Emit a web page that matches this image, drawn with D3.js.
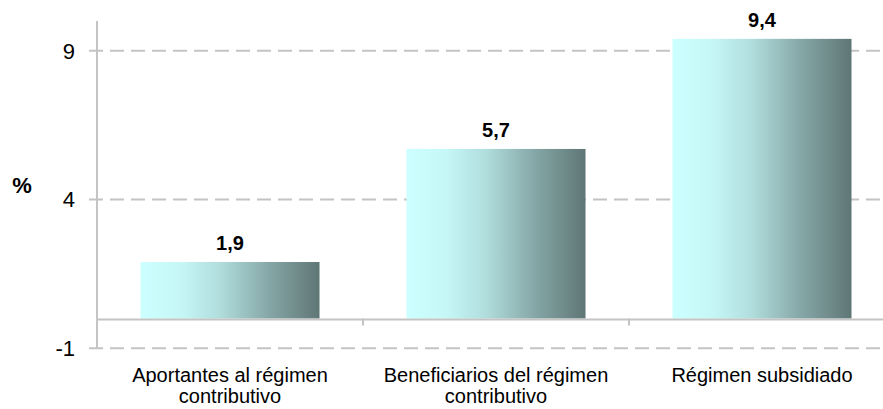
<!DOCTYPE html>
<html>
<head>
<meta charset="utf-8">
<script src="https://cdn.jsdelivr.net/npm/d3@7"></script>
<style>
  html, body { margin: 0; padding: 0; background: #fff; }
  svg { display: block; font-family: "Liberation Sans", Arial, sans-serif; }
</style>
</head>
<body>
<svg id="chart" width="883" height="409"></svg>
<script>
const categories = [
  ["Aportantes al régimen", "contributivo"],
  ["Beneficiarios del régimen", "contributivo"],
  ["Régimen subsidiado"]
];
const values = [1.9, 5.7, 9.4];
const valueLabels = ["1,9", "5,7", "9,4"];
const yTicks = [-1, 4, 9];
const yTitle = "%";

(function () {
const svg = d3.select("#chart");
const mLeft = 97, mRight = 895, mTop = 21, mBottom = 348.3;

const x = d3.scaleBand().domain(d3.range(categories.length)).range([mLeft, mRight]).padding(0);
const y = d3.scaleLinear().domain([-1, 10]).range([mBottom, mTop]);
const barW = x.bandwidth() * 0.673;

const defs = svg.append("defs");
const grad = defs.append("linearGradient").attr("id", "barGrad")
  .attr("x1", "0%").attr("x2", "100%").attr("y1", "0%").attr("y2", "0%");
[[0, "#ccffff"], [0.22, "#c6f7f7"], [0.45, "#b0dcdc"], [0.7, "#88aaaa"], [1, "#5f7675"]]
  .forEach(([o, c]) => grad.append("stop").attr("offset", o).attr("stop-color", c));

// gridlines (dashed) with small tick on the left
svg.append("g").selectAll("line").data(yTicks).join("line")
  .attr("x1", mLeft - 8).attr("x2", 883)
  .attr("y1", d => y(d)).attr("y2", d => y(d))
  .attr("stroke", "#c4c4c4").attr("stroke-width", 2)
  .attr("stroke-dasharray", "14,7");

// y-axis line
svg.append("line")
  .attr("x1", mLeft).attr("x2", mLeft).attr("y1", mTop).attr("y2", mBottom)
  .attr("stroke", "#c4c4c4").attr("stroke-width", 2);

// bars
svg.append("g").selectAll("rect").data(values).join("rect")
  .attr("x", (d, i) => x(i) + (x.bandwidth() - barW) / 2)
  .attr("width", barW)
  .attr("y", d => y(d))
  .attr("height", d => y(0) - y(d))
  .attr("fill", "url(#barGrad)");

// zero line
svg.append("line")
  .attr("x1", mLeft).attr("x2", 883).attr("y1", y(0) + 1).attr("y2", y(0) + 1)
  .attr("stroke", "#c4c4c4").attr("stroke-width", 2);

// category ticks
svg.append("g").selectAll("line").data(d3.range(1, categories.length)).join("line")
  .attr("x1", d => x(d)).attr("x2", d => x(d))
  .attr("y1", y(0)).attr("y2", y(0) + 7)
  .attr("stroke", "#c4c4c4").attr("stroke-width", 2);

// y tick labels
svg.append("g").selectAll("text").data(yTicks).join("text")
  .attr("x", 75).attr("y", d => y(d)).attr("dy", "0.36em")
  .attr("text-anchor", "end").attr("font-size", 22).attr("fill", "#000")
  .text(d => d);

// y title
svg.append("text").attr("x", 22).attr("y", 193).attr("text-anchor", "middle")
  .attr("font-size", 22).attr("font-weight", "bold").text(yTitle);

// value labels
svg.append("g").selectAll("text").data(values).join("text")
  .attr("x", (d, i) => x(i) + x.bandwidth() / 2)
  .attr("y", d => y(d) - 12)
  .attr("text-anchor", "middle").attr("font-size", 20).attr("font-weight", "bold")
  .text((d, i) => valueLabels[i]);

// category labels
const cl = svg.append("g").selectAll("text").data(categories).join("text")
  .attr("x", (d, i) => x(i) + x.bandwidth() / 2)
  .attr("y", 382)
  .attr("text-anchor", "middle").attr("font-size", 20);
cl.selectAll("tspan").data(d => d).join("tspan")
  .attr("x", function() { return d3.select(this.parentNode).attr("x"); })
  .attr("dy", (d, j) => j === 0 ? 0 : 21)
  .text(d => d);
})();
</script>
</body>
</html>
